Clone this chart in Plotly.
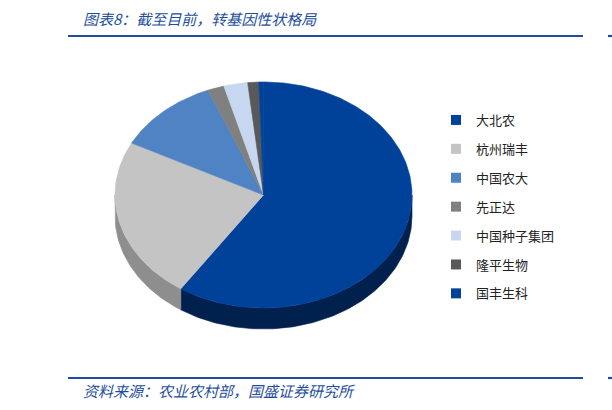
import numpy as np
import plotly.graph_objects as go

# ---- data ----
names = ["大北农", "杭州瑞丰", "中国农大", "先正达", "中国种子集团", "隆平生物", "国丰生科"]
values = [59.4, 23.2, 11.3, 1.8, 2.6, 1.2, 0.5]
top_colors = ["#00419A", "#C4C4C4", "#4F83C4", "#808080", "#C6D7EF", "#595959", "#00419A"]
side_colors = ["#00204E", "#8E8E8E", "#2B4F80", "#555555", "#8A9BB4", "#3A3A3A", "#00204E"]
title_text = "图表8：截至目前，转基因性状格局"
source_text = "资料来源：农业农村部，国盛证券研究所"

W, H = 612, 410
CX, CY, RX, RY, DEPTH = 263.5, 195.0, 148.5, 113.0, 21.0
FONT = "Noto Sans CJK SC"
BLUE = "#1F4E9E"


def arc(a, b, dy=0.0, n=None):
    if n is None:
        n = max(int(abs(b - a) / 1.0) + 2, 3)
    t = np.radians(np.linspace(a, b, n))
    return CX + RX * np.sin(t), CY - RY * np.cos(t) + dy


fig = go.Figure()
cum = np.concatenate([[0.0], np.cumsum(values)]) / np.sum(values) * 360.0

# side walls (front half only)
for i in range(len(values)):
    a, b = cum[i], cum[i + 1]
    lo, hi = max(a, 90.0), min(b, 270.0)
    if hi <= lo:
        continue
    xt, yt = arc(lo, hi)
    xb, yb = arc(hi, lo, DEPTH)
    xs = np.concatenate([xt, xb, xt[:1]])
    ys = np.concatenate([yt, yb, yt[:1]])
    fig.add_trace(go.Scatter(x=xs, y=ys, mode="lines", fill="toself",
                             fillcolor=side_colors[i],
                             line=dict(color=side_colors[i], width=0.6),
                             hoverinfo="skip", showlegend=False))

# top faces
for i in range(len(values)):
    a, b = cum[i], cum[i + 1]
    if b - a <= 0:
        continue
    xa, ya = arc(a, b)
    xs = np.concatenate([[CX], xa, [CX]])
    ys = np.concatenate([[CY], ya, [CY]])
    fig.add_trace(go.Scatter(x=xs, y=ys, mode="lines", fill="toself",
                             fillcolor=top_colors[i],
                             line=dict(color=top_colors[i], width=0.6),
                             name=names[i], hoverinfo="name", showlegend=False))

# legend entries
for n, c in zip(names, top_colors):
    fig.add_trace(go.Scatter(x=[None], y=[None], mode="markers",
                             marker=dict(symbol="square", size=10, color=c),
                             name=n, legendgroup=n, showlegend=True))

fig.add_annotation(x=81 / W, y=1 - 18 / H, xref="paper", yref="paper",
                   xanchor="left", yanchor="middle", showarrow=False,
                   text=title_text,
                   font=dict(family=FONT, size=15, color=BLUE, style="italic"))
fig.add_annotation(x=81 / W, y=1 - 390 / H, xref="paper", yref="paper",
                   xanchor="left", yanchor="middle", showarrow=False,
                   text=source_text,
                   font=dict(family=FONT, size=15, color=BLUE, style="italic"))

for yy in (36, 378):
    fig.add_shape(type="line", xref="paper", yref="paper",
                  x0=68 / W, x1=583 / W, y0=1 - yy / H, y1=1 - yy / H,
                  line=dict(color=BLUE, width=2.2))
    fig.add_shape(type="line", xref="paper", yref="paper",
                  x0=608 / W, x1=1, y0=1 - yy / H, y1=1 - yy / H,
                  line=dict(color=BLUE, width=2.2))

fig.update_layout(
    width=W, height=H,
    margin=dict(l=0, r=0, t=0, b=0),
    paper_bgcolor="white", plot_bgcolor="white",
    xaxis=dict(range=[0, W], visible=False, fixedrange=True),
    yaxis=dict(range=[H, 0], visible=False, fixedrange=True),
    showlegend=True,
    legend=dict(x=436 / W, y=1 - 105 / H, xanchor="left", yanchor="top",
                tracegroupgap=9, font=dict(family=FONT, size=13, color="#222222"),
                bgcolor="rgba(0,0,0,0)"),
    font=dict(family=FONT),
)

fig.write_html("out.html", config={"displayModeBar": False},
               post_script="document.body.style.margin='0';document.body.style.overflow='hidden';")
